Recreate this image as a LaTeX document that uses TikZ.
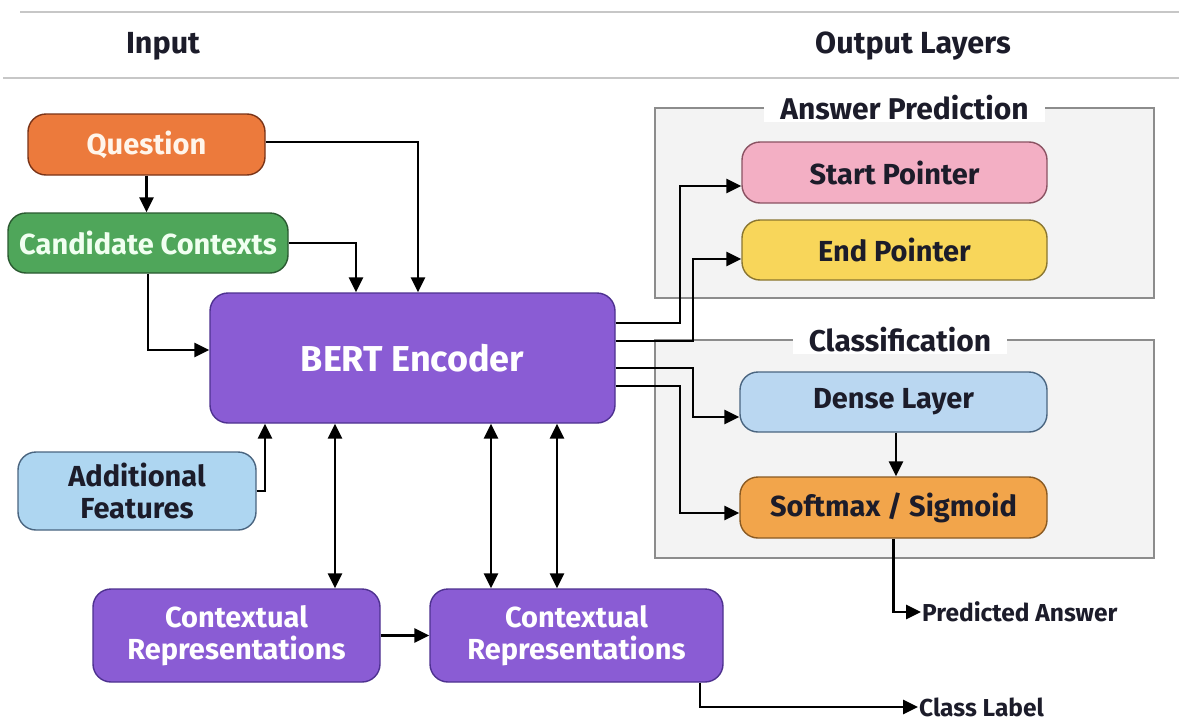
\documentclass[tikz,border=0pt]{standalone}
\usepackage{fontspec}
\setmainfont{Fira Sans}
\usetikzlibrary{arrows.meta}
\definecolor{qfill}{HTML}{EC7A3C}\definecolor{qdraw}{HTML}{7A3418}
\definecolor{cfill}{HTML}{4FA65A}\definecolor{cdraw}{HTML}{2B5A31}
\definecolor{pfill}{HTML}{8A5CD4}\definecolor{pdraw}{HTML}{4E3190}
\definecolor{bfill}{HTML}{AED6F1}\definecolor{bdraw}{HTML}{4A6580}
\definecolor{dfill}{HTML}{BAD7F1}
\definecolor{sfill}{HTML}{F3AFC4}\definecolor{sdraw}{HTML}{8A5262}
\definecolor{efill}{HTML}{F8D65A}\definecolor{edraw}{HTML}{8A7630}
\definecolor{ofill}{HTML}{F2A54B}\definecolor{odraw}{HTML}{8A5A22}
\definecolor{darktext}{HTML}{1C1C2A}
\definecolor{grpfill}{HTML}{F3F3F3}\definecolor{grpdraw}{HTML}{8C8C8C}
\tikzset{
  box/.style={draw, line width=1.4pt, rounded corners=18pt, align=center, inner sep=0pt,
    font=\fontsize{29}{32}\selectfont\bfseries},
  pbox/.style={box, fill=pfill, draw=pdraw, text=white},
  arr/.style={draw=black, line width=2.7pt, -{Triangle[length=15pt,width=14pt]}},
  darr/.style={draw=black, line width=2.7pt, {Triangle[length=15pt,width=14pt]}-{Triangle[length=15pt,width=14pt]}},
  grp/.style={fill=grpfill, draw=grpdraw, line width=1.6pt},
  grptitle/.style={fill=white, inner xsep=16pt, inner ysep=2pt, font=\fontsize{30}{34}\selectfont\bfseries, text=darktext},
  hdr/.style={font=\fontsize{30.5}{34}\selectfont\bfseries, text=darktext},
  outlbl/.style={anchor=west, inner sep=1pt, font=\fontsize{24.5}{28}\selectfont\bfseries, text=darktext},
  hline/.style={draw=black!22, line width=2.2pt}
}
\begin{document}
\begin{tikzpicture}[x=1pt,y=-1pt]
\useasboundingbox[fill=white] (0,0) rectangle (1179,723);
% header
\draw[hline] (20,12) -- (1179,12);
\draw[hline] (3,78) -- (1179,78);
\node[hdr] (hin) at (163,46) {Input};
\node[hdr] (hout) at (913,46) {Output Layers};
% group boxes
\draw[grp] (655,108) rectangle (1154,298);
\node[grptitle] (tap) at (904.5,108) {Answer Prediction};
\draw[grp] (655,340) rectangle (1154,558);
\node[grptitle] (tcl) at (900,340) {Classification};
% nodes
\node[box, fill=qfill, draw=qdraw, text=white!92!orange, minimum width=237pt, minimum height=61pt] (q) at (146.5,144.5) {Question};
\node[box, fill=cfill, draw=cdraw, text=white!94!green, minimum width=280pt, minimum height=60pt] (cc) at (148,243) {Candidate Contexts};
\node[pbox, minimum width=405pt, minimum height=130pt, font=\fontsize{36}{40}\selectfont\bfseries] (bert) at (412.5,358) {BERT Encoder};
\node[box, fill=bfill, draw=bdraw, text=darktext, minimum width=238pt, minimum height=78pt] (af) at (137,491) {Additional\\Features};
\node[pbox, minimum width=287pt, minimum height=93pt] (cr1) at (236.5,635.5) {Contextual\\Representations};
\node[pbox, minimum width=293pt, minimum height=93pt] (cr2) at (576.5,635.5) {Contextual\\Representations};
\node[box, fill=sfill, draw=sdraw, text=darktext, minimum width=305pt, minimum height=61pt] (sp) at (894.5,172.5) {Start Pointer};
\node[box, fill=efill, draw=edraw, text=darktext, minimum width=305pt, minimum height=60pt] (ep) at (894.5,250) {End Pointer};
\node[box, fill=dfill, draw=bdraw, text=darktext, minimum width=307pt, minimum height=60pt] (dl) at (893.5,402) {Dense Layer};
\node[box, fill=ofill, draw=odraw, text=darktext, minimum width=307pt, minimum height=61pt] (sm) at (893.5,507.5) {Softmax / Sigmoid};
\node[outlbl] (pa) at (921,612) {Predicted Answer};
\node[outlbl] (cl) at (918,707) {Class Label};
\coordinate (busA) at (680,0);
\coordinate (busB) at (693,0);
% connectors
\draw[arr] (q.south) -- (q.south |- cc.north);
\draw[arr] ([yshift=2.5pt]q.east) -| ([xshift=5.5pt]bert.north);
\draw[arr] (cc.east) -| ([xshift=-56.5pt]bert.north);
\draw[arr] (cc.south) |- ([yshift=8pt]bert.west);
\draw[arr] (af.east) -| ([xshift=-147.5pt]bert.south);
\draw[darr] ([xshift=-77.5pt]bert.south) -- ([xshift=-77.5pt]bert.south |- cr1.north);
\draw[darr] ([xshift=78.5pt]bert.south) -- ([xshift=78.5pt]bert.south |- cr2.north);
\draw[darr] ([xshift=144.5pt]bert.south) -- ([xshift=144.5pt]bert.south |- cr2.north);
\draw[arr] (cr1.east) -- (cr2.west);
\draw[arr] ([yshift=35pt]bert.east) -- ([yshift=35pt]bert.east -| busA) |- ([yshift=-13.5pt]sp.west);
\draw[arr] ([yshift=17pt]bert.east) -- ([yshift=17pt]bert.east -| busB) |- ([yshift=-9pt]ep.west);
\draw[arr] ([yshift=-10pt]bert.east) -- ([yshift=-10pt]bert.east -| busB) |- ([yshift=-15pt]dl.west);
\draw[arr] ([yshift=-28pt]bert.east) -- ([yshift=-28pt]bert.east -| busA) |- ([yshift=-5.5pt]sm.west);
\draw[arr] ([xshift=2.5pt]dl.south) -- ([xshift=2.5pt]dl.south |- sm.north);
\draw[arr] (sm.south) |- (pa.west);
\draw[arr] ([xshift=123.5pt]cr2.south) |- (cl.west);
\end{tikzpicture}
\end{document}
